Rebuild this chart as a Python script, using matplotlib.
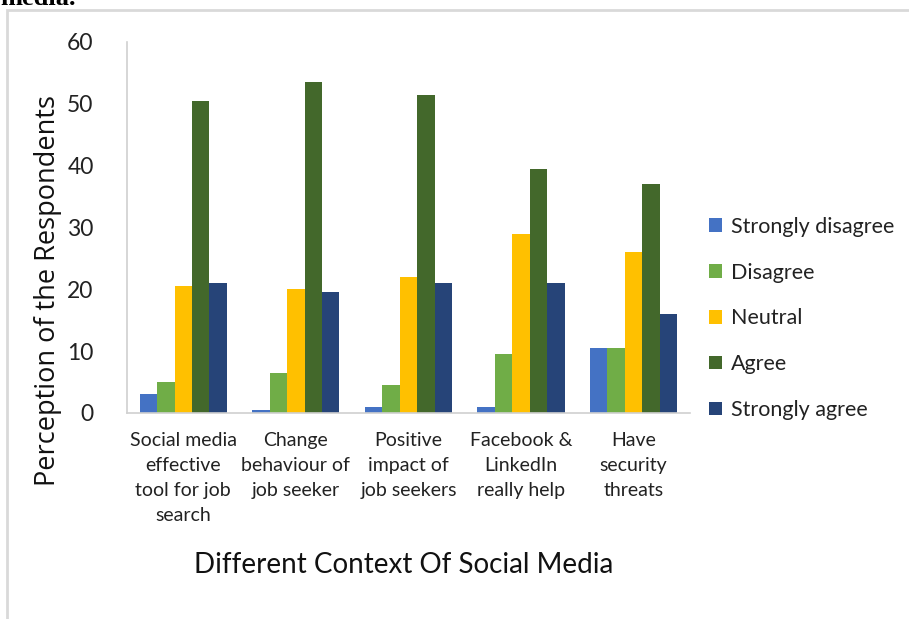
import matplotlib
matplotlib.use("Agg")
import matplotlib.pyplot as plt
import matplotlib.patches as mpatches
import numpy as np

# ── Data ──────────────────────────────────────────────────
CATEGORIES = ["Social media\neffective\ntool for job\nsearch",
              "Change\nbehaviour of\njob seeker",
              "Positive\nimpact of\njob seekers",
              "Facebook &\nLinkedIn\nreally help",
              "Have\nsecurity\nthreats"]
SERIES = ["Strongly disagree", "Disagree", "Neutral", "Agree", "Strongly agree"]
strongly_disagree = [3, 0.5, 1, 1, 10.5]
disagree          = [5, 6.5, 4.5, 9.5, 10.5]
neutral           = [20.5, 20, 22, 29, 26]
agree             = [50.5, 53.5, 51.5, 39.5, 37]
strongly_agree    = [21, 19.5, 21, 21, 16]
Y_TICKS = [0, 10, 20, 30, 40, 50, 60]

COLORS = ["#4472C4", "#70AD47", "#FFC000", "#43682B", "#264478"]
plt.rcParams["font.family"] = ["Lato", "DejaVu Sans"]

fig = plt.figure(figsize=(9.09, 6.19), dpi=100)
ax = fig.add_axes([0.1397, 0.3328, 0.6193, 0.5994])

values = [strongly_disagree, disagree, neutral, agree, strongly_agree]
x = np.arange(len(CATEGORIES))
w = 0.155
for i, (name, vals, c) in enumerate(zip(SERIES, values, COLORS)):
    ax.bar(x + (i - 2) * w, vals, width=w, color=c, label=name, edgecolor="none")

ax.set_xlim(-0.5, len(CATEGORIES) - 0.5)
ax.set_ylim(0, 60)
ax.set_yticks(Y_TICKS)
ax.set_yticklabels([str(t) for t in Y_TICKS], fontsize=16.5, color="#222222")
ax.set_xticks(x)
ax.set_xticklabels(CATEGORIES, fontsize=14, color="#222222", linespacing=1.55)
ax.tick_params(length=0, pad=14)
ax.tick_params(axis="y", pad=24)
for s in ["top", "right"]:
    ax.spines[s].set_visible(False)
for s in ["left", "bottom"]:
    ax.spines[s].set_color("#d0d0d0")
    ax.spines[s].set_linewidth(1.2)

ax.set_ylabel("Perception of the Respondents", fontsize=19.5, color="#111111",
              family=["Open Sans", "DejaVu Sans"])
ax.yaxis.set_label_coords(-0.115, 0.33)
fig.text(0.444, 0.087, "Different Context Of Social Media", fontsize=20,
         ha="center", va="center", color="#111111")

leg = ax.legend(loc="center left", bbox_to_anchor=(1.0, 0.255), frameon=False,
                fontsize=15.5, handlelength=0.6, handleheight=0.6,
                handletextpad=0.4, labelspacing=1.2)
for t in leg.get_texts():
    t.set_color("#222222")

# page frame and cut-off caption above
fig.patches.append(mpatches.Rectangle((7 / 909, -0.1), 1.2, 1 - 10 / 619 + 0.1,
                                      transform=fig.transFigure, fill=False,
                                      edgecolor="#d9d9d9", linewidth=2))
fig.text(0.0, 1.003, "media.", fontsize=19, fontweight="bold", ha="left", va="center",
         family=["Liberation Serif", "DejaVu Serif"])

fig.savefig("out.png", dpi=100)
